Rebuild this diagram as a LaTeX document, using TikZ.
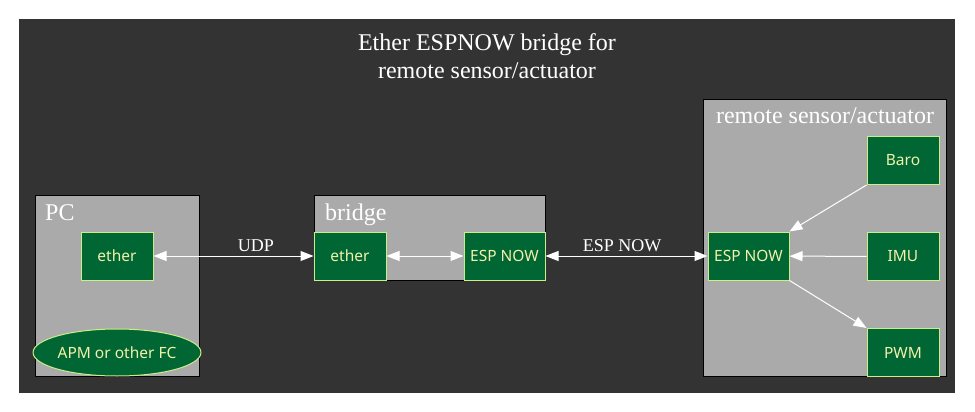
\documentclass[tikz,border=0pt]{standalone}
\usepackage{fontspec}
\setmainfont{Liberation Serif}
\newfontfamily\nodefont{Noto Sans}
\usetikzlibrary{arrows.meta,shapes.geometric}
\definecolor{bgdark}{HTML}{333333}
\definecolor{clgray}{HTML}{AAAAAA}
\definecolor{ndgreen}{HTML}{006633}
\definecolor{ndborder}{HTML}{CCEE88}
\definecolor{ndtext}{HTML}{F2F2AA}
\tikzset{
  box/.style={draw=ndborder, fill=ndgreen, text=ndtext, line width=1pt,
    minimum width=72pt, minimum height=48pt, inner sep=0pt,
    font=\nodefont\fontsize{15.5}{18}\selectfont},
  oval/.style={box, ellipse, minimum width=164pt, minimum height=47pt},
  cluster/.style={draw=black, fill=clgray, line width=1pt},
  clabel/.style={text=white, font=\fontsize{24}{28}\selectfont, inner sep=0pt},
  elabel/.style={text=white, font=\fontsize{18}{21}\selectfont, inner sep=0pt},
  tip/.tip={Triangle[length=13pt,width=10pt]},
  link/.style={draw=white, line width=1pt, -tip},
  blink/.style={draw=white, line width=1pt, tip-tip}
}
\begin{document}
\begin{tikzpicture}[x=1pt,y=-1pt]
\useasboundingbox (0,0) rectangle (975,412);
\fill[white] (0,0) rectangle (975,412);
\fill[bgdark] (19,19) rectangle (955,393);
\node[text=white, align=center, font=\fontsize{24}{28}\selectfont] (title) at (487,56) {Ether ESPNOW bridge for\\remote sensor/actuator};
% clusters
\draw[cluster] (35,195) rectangle (199,376);
\node[clabel, anchor=base west] (pclabel) at (45,220) {PC};
\draw[cluster] (314,195) rectangle (545,280);
\node[clabel, anchor=base west] (brlabel) at (325,220) {bridge};
\draw[cluster] (703,99) rectangle (946,376);
\node[clabel, anchor=base] (rmlabel) at (825,124) {remote sensor/actuator};
% nodes
\node[box] (pcether) at (117,256) {ether};
\node[oval] (apm) at (117,352.5) {APM or other FC};
\node[box] (bether) at (350,256) {ether};
\node[box, minimum width=81pt] (besp) at (504.5,256) {ESP NOW};
\node[box, minimum width=81pt] (resp) at (748.5,256) {ESP NOW};
\node[box] (baro) at (903,160.5) {Baro};
\node[box] (imu) at (903,256.5) {IMU};
\node[box] (pwm) at (903,352.5) {PWM};
% edges
\draw[blink] (pcether) -- (bether);
\node[elabel, anchor=base] (udp) at (256,251) {UDP};
\draw[blink] (bether) -- (besp);
\draw[blink] (besp) -- (resp);
\node[elabel, anchor=base] (espnow) at (622,251) {ESP NOW};
\draw[link] (baro.south west) -- (resp.north east);
\draw[link] (imu) -- (resp);
\draw[link] (resp.south east) -- (pwm.north west);
\end{tikzpicture}
\end{document}
